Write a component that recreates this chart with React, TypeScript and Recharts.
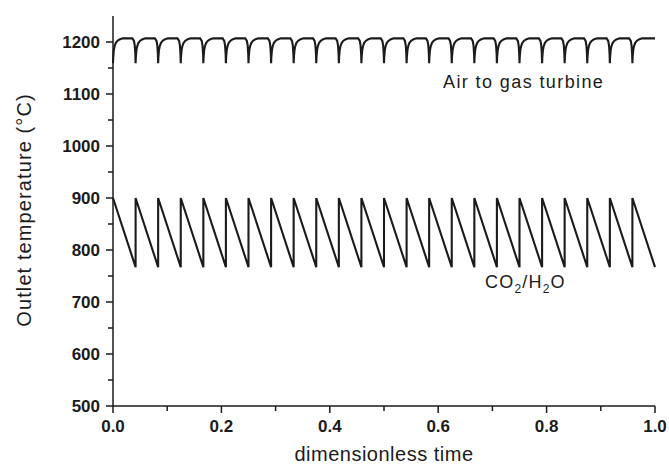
import React from 'react'
import { LineChart, Line, XAxis, YAxis } from 'recharts'

// switching instants of the regenerative cycle (dimensionless time)
const cycleStarts = [
  0, 0.0417, 0.0833, 0.125, 0.1667, 0.2083, 0.25, 0.2917, 0.3333, 0.375, 0.4167, 0.4583,
  0.5, 0.5417, 0.5833, 0.625, 0.6667, 0.7083, 0.75, 0.7917, 0.8333, 0.875, 0.9167, 0.9583, 1.0,
]

// CO2/H2O outlet: peak at each switch, linear decay to the trough before the next
const co2Peak = 900
const co2Trough = 767

// air outlet: recovery after each switch (offset from switch, °C)
const airRiseOffsets = [0, 0.0005, 0.0015, 0.003, 0.005, 0.008, 0.012, 0.018]
const airRiseValues = [1159, 1172, 1184, 1192, 1198, 1202, 1205, 1207]
// air outlet: dip just before the next switch (offset before switch, °C)
const airDropOffsets = [0.006, 0.003, 0.0015, 0.0005]
const airDropValues = [1207, 1202, 1193, 1177]
const airEndValue = 1207

const xTicks = [0, 0.1, 0.2, 0.3, 0.4, 0.5, 0.6, 0.7, 0.8, 0.9, 1.0]
const yTicks = [500, 550, 600, 650, 700, 750, 800, 850, 900, 950, 1000, 1050, 1100, 1150, 1200]

const co2Data: { t: number; v: number }[] = []
const airData: { t: number; v: number }[] = []
for (let i = 0; i < cycleStarts.length - 1; i++) {
  const start = cycleStarts[i]
  const next = cycleStarts[i + 1]
  co2Data.push({ t: start, v: co2Peak })
  co2Data.push({ t: next, v: co2Trough })
  airRiseOffsets.forEach((dt, j) => airData.push({ t: start + dt, v: airRiseValues[j] }))
  if (i < cycleStarts.length - 2) {
    airDropOffsets.forEach((dt, j) => airData.push({ t: next - dt, v: airDropValues[j] }))
  } else {
    airData.push({ t: next, v: airEndValue })
  }
}

const ink = '#1b1b1b'
const font = '"Liberation Sans", Arial, sans-serif'

function XTick(props: any) {
  const { x, y, payload } = props
  const major = Math.round(payload.value * 10) % 2 === 0
  return (
    <g>
      <line x1={x} y1={y} x2={x} y2={y + (major ? 7 : 5)} stroke={ink} strokeWidth={1.5} />
      {major && (
        <text x={x} y={y + 26} textAnchor="middle" fill={ink} fontSize={17} fontWeight={700} fontFamily={font}>
          {payload.value.toFixed(1)}
        </text>
      )}
    </g>
  )
}

function YTick(props: any) {
  const { x, y, payload } = props
  const major = payload.value % 100 === 0
  return (
    <g>
      <line x1={x} y1={y} x2={x - (major ? 7 : 5)} y2={y} stroke={ink} strokeWidth={1.5} />
      {major && (
        <text x={x - 13} y={y + 6} textAnchor="end" fill={ink} fontSize={17} fontWeight={700} fontFamily={font}>
          {payload.value}
        </text>
      )}
    </g>
  )
}

export default function App() {
  return (
    <div style={{ position: 'absolute', left: 0, top: 0, width: 669, height: 468, background: '#fff' }}>
      <LineChart width={669} height={468} margin={{ top: 16, right: 14, bottom: 32, left: 53 }}>
        <XAxis
          dataKey="t"
          type="number"
          domain={[0, 1]}
          ticks={xTicks}
          allowDuplicatedCategory={false}
          tick={<XTick />}
          tickSize={0}
          tickMargin={0}
          tickLine={false}
          axisLine={{ stroke: ink, strokeWidth: 1.5 }}
          height={30}
        />
        <YAxis
          dataKey="v"
          type="number"
          domain={[500, 1250]}
          ticks={yTicks}
          tick={<YTick />}
          tickSize={0}
          tickMargin={0}
          tickLine={false}
          axisLine={{ stroke: ink, strokeWidth: 1.5 }}
          width={60}
        />
        <Line data={airData} dataKey="v" type="linear" stroke={ink} strokeWidth={2.1} dot={false} isAnimationActive={false} />
        <Line data={co2Data} dataKey="v" type="linear" stroke={ink} strokeWidth={2.1} dot={false} isAnimationActive={false} />
      </LineChart>
      <svg width={669} height={468} style={{ position: 'absolute', left: 0, top: 0, pointerEvents: 'none' }} fontFamily={font} fill={ink}>
        <text transform="translate(31,210) rotate(-90)" textAnchor="middle" fontSize={20} style={{ letterSpacing: '1.1px' }}>
          Outlet temperature (°C)
        </text>
        <text x={384} y={461} textAnchor="middle" fontSize={20} style={{ letterSpacing: '0.5px' }}>
          dimensionless time
        </text>
        <text x={443} y={87.5} fontSize={18} style={{ letterSpacing: '1.4px' }}>
          Air to gas turbine
        </text>
        <text x={485} y={288} fontSize={18} style={{ letterSpacing: '1.2px' }}>
          CO<tspan fontSize={12} dy={5}>2</tspan>
          <tspan dy={-5}>/H</tspan>
          <tspan fontSize={12} dy={5}>2</tspan>
          <tspan dy={-5}>O</tspan>
        </text>
      </svg>
    </div>
  )
}
